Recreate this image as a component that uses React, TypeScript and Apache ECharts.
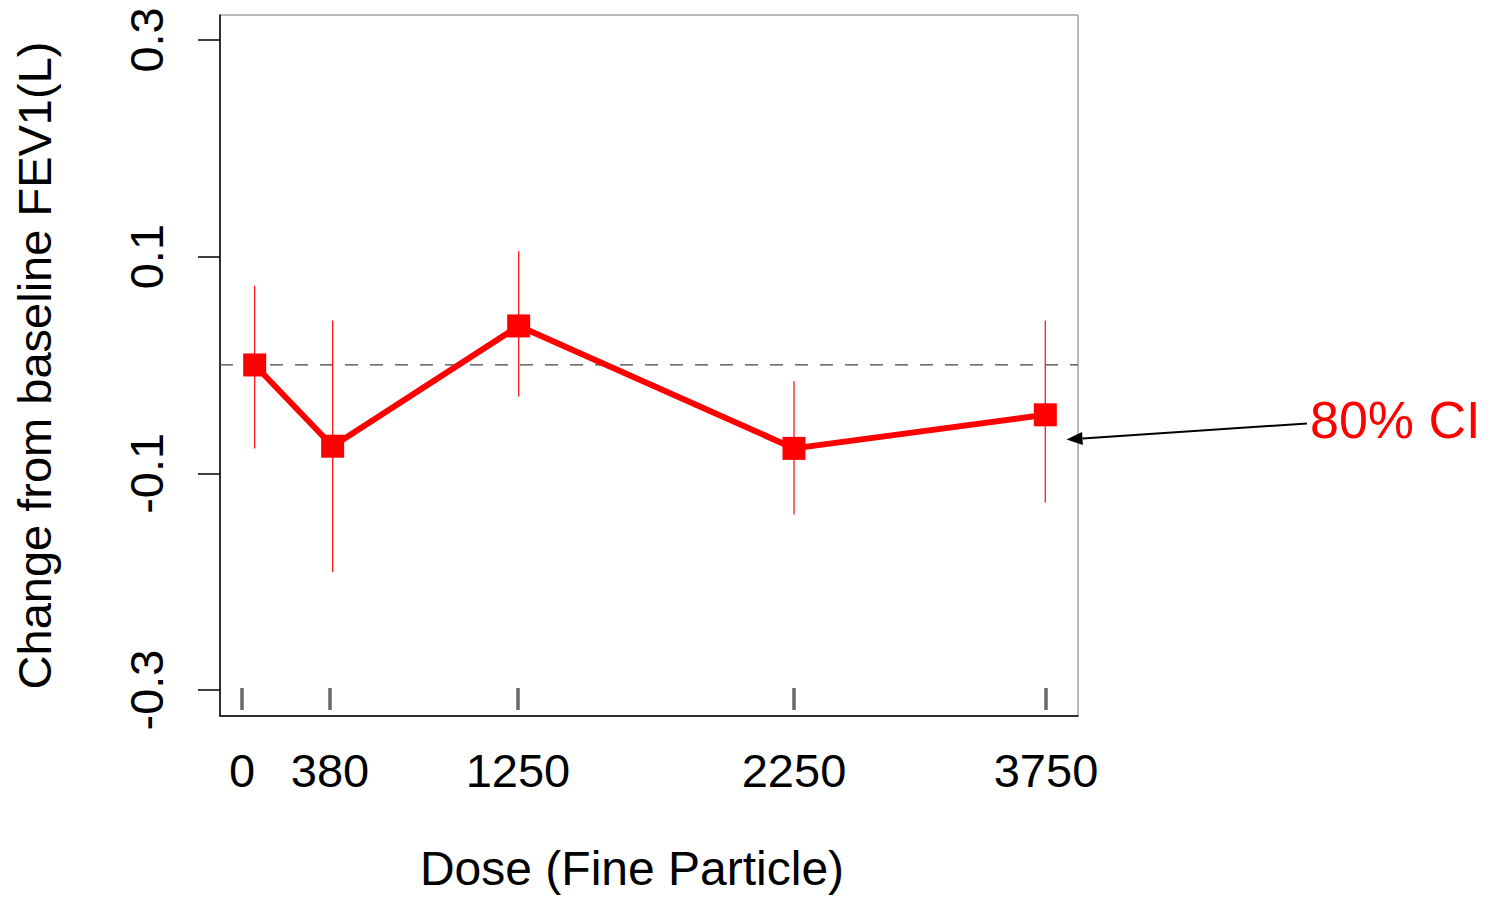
import React, { useEffect, useRef } from "react";
import * as echarts from "echarts";

// ---- data ----
const doseLabels = ["0", "380", "1250", "2250", "3750"];
// plotting position of each dose on the (non-linear) horizontal axis, 0..100
const doseAxisPos = [2.56, 12.82, 34.73, 66.9, 96.27];
// plotting position of the estimates (slightly jittered for the first two doses)
const pointPos = [4.04, 13.13, 34.81, 66.9, 96.19];
const meanChange = [0.0, -0.075, 0.036, -0.077, -0.046];
const ciUpper = [0.073, 0.041, 0.105, -0.015, 0.041];
const ciLower = [-0.077, -0.191, -0.029, -0.138, -0.127];
const yTickValues = [-0.3, -0.1, 0.1, 0.3];
const yTickLabels = ["-0.3", "-0.1", "0.1", "0.3"];
const xRange = [0, 100];
const referenceLevel = 0;
const xTitle = "Dose (Fine Particle)";
const yTitle = "Change from baseline FEV1(L)";
const ciLabel = "80% CI";

const FONT = "'Liberation Sans', Arial, sans-serif";

function labelFor(values: number[], labels: string[], v: number): string {
  for (let i = 0; i < values.length; i++) {
    if (Math.abs(values[i] - v) < 1e-6) return labels[i];
  }
  return "";
}

export default function App() {
  const ref = useRef<HTMLDivElement>(null);

  useEffect(() => {
    document.body.style.margin = "0";
    if (!ref.current) return;
    const chart = echarts.init(ref.current, null, { renderer: "svg" });

    const tip = [1066.5, 439.5];
    const start = [1307, 423.5];
    const dx = tip[0] - start[0];
    const dy = tip[1] - start[1];
    const len = Math.sqrt(dx * dx + dy * dy);
    const ux = dx / len;
    const uy = dy / len;
    const headLen = 16;
    const headHalf = 6.5;
    const bx = tip[0] - ux * headLen;
    const by = tip[1] - uy * headLen;
    const px = -uy * headHalf;
    const py = ux * headHalf;

    const option: any = {
      animation: false,
      grid: {
        left: 220,
        top: 15,
        width: 858,
        height: 702,
        show: true,
        borderColor: "#777",
        borderWidth: 1,
        backgroundColor: "transparent",
      },
      xAxis: [
        {
          type: "value",
          min: xRange[0],
          max: xRange[1],
          position: "bottom",
          splitLine: { show: false },
          axisLine: { show: true, onZero: false, lineStyle: { color: "#000", width: 1.5 } },
          axisTick: { show: false },
          axisLabel: {
            show: true,
            customValues: doseAxisPos,
            formatter: (v: number) => labelFor(doseAxisPos, doseLabels, v),
            margin: 31,
            fontSize: 47,
            color: "#000",
            fontFamily: FONT,
          },
          name: xTitle,
          nameLocation: "middle",
          nameGap: 128,
          nameTextStyle: {
            fontSize: 48,
            color: "#000",
            fontFamily: FONT,
            padding: [0, 34, 0, 0],
          },
        },
        {
          type: "value",
          min: xRange[0],
          max: xRange[1],
          position: "bottom",
          offset: -6,
          splitLine: { show: false },
          axisLine: { show: false, onZero: false },
          axisLabel: { show: false },
          axisTick: {
            show: true,
            inside: true,
            length: 22,
            customValues: doseAxisPos,
            lineStyle: { color: "#6a6a6a", width: 3.5 },
          },
        },
      ],
      yAxis: {
        type: "value",
        min: -0.324,
        max: 0.323,
        splitLine: { show: false },
        axisLine: { show: true, onZero: false, lineStyle: { color: "#000", width: 1.5 } },
        axisTick: {
          show: true,
          length: 22,
          customValues: yTickValues,
          lineStyle: { color: "#000", width: 1.5 },
        },
        axisLabel: {
          show: true,
          customValues: yTickValues,
          formatter: (v: number) => labelFor(yTickValues, yTickLabels, v),
          rotate: 90,
          margin: 50,
          fontSize: 47,
          color: "#000",
          fontFamily: FONT,
        },
        name: yTitle,
        nameLocation: "middle",
        nameRotate: 90,
        nameGap: 162,
        nameTextStyle: { fontSize: 47, color: "#000", fontFamily: FONT },
      },
      series: [
        {
          type: "custom",
          xAxisIndex: 0,
          yAxisIndex: 0,
          z: 1,
          silent: true,
          data: [[xRange[0], xRange[1], referenceLevel]],
          encode: { x: [0, 1], y: 2 },
          renderItem: (params: any, api: any) => {
            const p1 = api.coord([api.value(0), api.value(2)]);
            const p2 = api.coord([api.value(1), api.value(2)]);
            return {
              type: "line",
              shape: { x1: p1[0], y1: p1[1], x2: p2[0], y2: p2[1] },
              style: { stroke: "#444", lineWidth: 1.3, lineDash: [13, 12] },
            };
          },
        },
        {
          type: "custom",
          xAxisIndex: 0,
          yAxisIndex: 0,
          z: 2,
          data: pointPos.map((x, i) => [x, ciLower[i], ciUpper[i]]),
          encode: { x: 0, y: [1, 2] },
          renderItem: (params: any, api: any) => {
            const x = api.value(0);
            const p1 = api.coord([x, api.value(1)]);
            const p2 = api.coord([x, api.value(2)]);
            return {
              type: "line",
              shape: { x1: p1[0], y1: p1[1], x2: p2[0], y2: p2[1] },
              style: { stroke: "#ff1a1a", lineWidth: 1.3 },
            };
          },
        },
        {
          type: "line",
          xAxisIndex: 0,
          yAxisIndex: 0,
          z: 3,
          data: pointPos.map((x, i) => [x, meanChange[i]]),
          symbol: "rect",
          symbolSize: 23,
          lineStyle: { color: "#ff0000", width: 6 },
          itemStyle: { color: "#ff0000" },
        },
      ],
      graphic: [
        {
          type: "text",
          x: 1310,
          y: 420,
          style: {
            text: ciLabel,
            fill: "#ff0000",
            fontSize: 52,
            fontFamily: FONT,
            verticalAlign: "middle",
            align: "left",
          },
        },
        {
          type: "line",
          shape: { x1: start[0], y1: start[1], x2: bx, y2: by },
          style: { stroke: "#000", lineWidth: 2 },
        },
        {
          type: "polygon",
          shape: {
            points: [
              [tip[0], tip[1]],
              [bx + px, by + py],
              [bx - px, by - py],
            ],
          },
          style: { fill: "#000" },
        },
      ],
    };

    chart.setOption(option);
    return () => chart.dispose();
  }, []);

  return <div ref={ref} style={{ width: 1498, height: 897 }} />;
}
